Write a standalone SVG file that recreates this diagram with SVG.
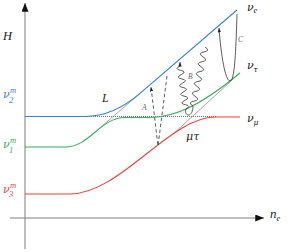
<svg xmlns="http://www.w3.org/2000/svg" width="291" height="252" viewBox="0 0 291 252">
<style>
.lab{font-family:"Liberation Serif",serif;font-style:italic;fill:#222}
.gk{font-family:"DejaVu Serif","Liberation Serif",serif;font-style:italic}
.sm{font-size:8.5px}
.tr{font-family:"Liberation Serif",serif;font-style:italic;font-size:7.5px;fill:#666}
.lvl{fill:none;stroke-width:1.1}
.thin{fill:none;stroke:#666;stroke-width:0.6}
.conn{fill:none;stroke:#333;stroke-width:0.8}
</style>
<defs>
<marker id="axarr" viewBox="0 0 10 8" refX="10" refY="4" markerWidth="9" markerHeight="7" orient="auto" markerUnits="userSpaceOnUse"><path d="M0,0 L10,4 L0,8 z" fill="#111"/></marker>
<marker id="arr" viewBox="0 0 8 6" refX="8" refY="3" markerWidth="4.5" markerHeight="3.4" orient="auto" markerUnits="userSpaceOnUse"><path d="M0,0 L8,3 L0,6 z" fill="#222"/></marker>
</defs>

<g id="axes">
<line x1="10" y1="218" x2="264" y2="218" stroke="#aaa" stroke-width="1.4" marker-end="url(#axarr)"/>
<line x1="25" y1="249" x2="25" y2="3" stroke="#888" stroke-width="1.1" marker-end="url(#axarr)"/>
</g>

<g id="guides">
<line x1="85" y1="116.5" x2="216" y2="116.5" stroke="#777" stroke-width="1" stroke-dasharray="1,1"/>
<line class="thin" x1="98" y1="129.5" x2="140" y2="93.4"/>
<line class="thin" x1="172" y1="135" x2="230" y2="82"/>
</g>

<g id="level-nu2">
<path class="lvl" stroke="#3a7fcc" d="M25,116.5 L85,116.5 C108,116.5 127,104.6 140,93.4 L237,10"/>
</g>
<g id="level-nu1">
<path class="lvl" stroke="#3aaa60" d="M25,147 L65,147 C90,147 100,117.5 125,117.5 L150,117.5 C175,117 200,106 240,73"/>
</g>
<g id="level-nu3">
<path class="lvl" stroke="#e8413c" d="M25,194 L70,194 C120,194 170,117 215,117 L240,117"/>
</g>

<g id="connectors">
<path class="conn" stroke-dasharray="3.5,2.5" d="M167,76 L158,146 L151,87" marker-end="url(#arr)"/>
<path class="conn" d="M205,47 q5.87,3.76 -1,4.92 t-1,4.92 t-1,4.92 t-1,4.92 t-1,4.92 t-1,4.92 t-1,4.92 t-1,4.92 t-1,4.92 t-1,4.92 t-1,4.92 t-1,4.92 c0,5 -2,9 -4.5,9 c-3,0 -3.5,-4 -2.5,-6 q6.14,-3.05 -0.6,-4.3 t-0.6,-4.3 t-0.6,-4.3 t-0.6,-4.3 t-0.6,-4.3 t-0.6,-4.3 t-0.6,-4.3 t-0.6,-4.3 t-0.6,-4.3 t-0.6,-4.3 l0,-4" marker-end="url(#arr)"/>
<path class="conn" d="M237,14 C236,45 235,82 230,81 C225,80 221,55 219,28" marker-end="url(#arr)"/>
</g>

<g id="labels">
<text class="lab" x="3" y="40" font-size="12.5">H</text>
<text class="lab" x="102" y="102" font-size="12">L</text>
<text class="lab gk" x="186" y="140" font-size="11">μτ</text>
<text class="tr" x="142" y="110">A</text>
<text class="tr" x="188" y="79">B</text>
<text class="tr" x="238" y="42">C</text>

<text class="lab" font-size="11" style="fill:#3a7fcc"><tspan class="gk" x="3" y="97.5">ν</tspan><tspan class="sm" x="10" y="92.5">m</tspan><tspan class="sm" x="9" y="102.5">2</tspan></text>
<text class="lab" font-size="11" style="fill:#3aaa60"><tspan class="gk" x="3" y="148">ν</tspan><tspan class="sm" x="10" y="143">m</tspan><tspan class="sm" x="9" y="153">1</tspan></text>
<text class="lab" font-size="11" style="fill:#e8413c"><tspan class="gk" x="3" y="193">ν</tspan><tspan class="sm" x="10" y="188">m</tspan><tspan class="sm" x="9" y="197">3</tspan></text>

<text class="lab" font-size="11"><tspan class="gk" x="247" y="10.5">ν</tspan><tspan class="sm" x="253.5" y="13">e</tspan></text>
<text class="lab" font-size="11"><tspan class="gk" x="247" y="69">ν</tspan><tspan class="gk" x="253.5" y="72" style="font-size:7.5px">τ</tspan></text>
<text class="lab" font-size="11"><tspan class="gk" x="247" y="122">ν</tspan><tspan class="gk" x="253.5" y="124.5" style="font-size:7.5px">μ</tspan></text>
<text class="lab" font-size="13"><tspan x="270" y="218">n</tspan><tspan class="sm" x="276.5" y="220.5">e</tspan></text>
</g>
</svg>
